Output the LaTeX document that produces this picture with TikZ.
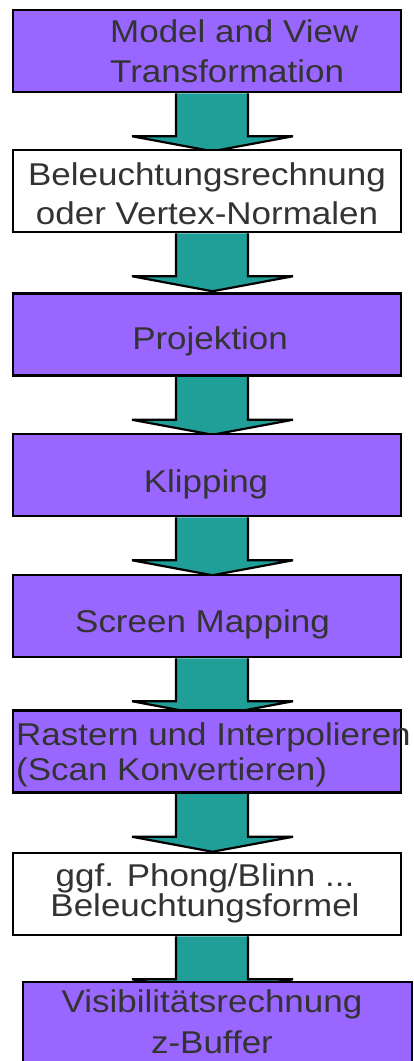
\documentclass[tikz,border=0pt]{standalone}
\usepackage{fontspec}
\setmainfont{Liberation Sans}[FakeStretch=1.11]
\usetikzlibrary{backgrounds}

\definecolor{stagefill}{RGB}{153,102,255}
\definecolor{arrowfill}{RGB}{32,158,152}
\definecolor{labelgray}{RGB}{51,51,51}

\tikzset{
  stagebox/.style={draw=black, line width=2.5pt, fill=stagefill,
    minimum width=388pt, minimum height=82pt, inner sep=0pt},
  plainbox/.style={stagebox, fill=white},
  % text height spans from the cap line of the first row to the last baseline
  stagetext/.style={text=labelgray, inner sep=0pt, text height=22pt,
    text depth=0pt, align=center},
  flowarrow/.style={draw=black, fill=arrowfill, line width=2.2pt, line join=miter},
}

% broad block arrow hanging below a stage box
\newcommand\stagearrow[1]{%
  \draw[flowarrow] ([xshift=-31pt]#1.south) -- ++(0,43) -- ++(-44,0)
    -- ++(80.5,15) -- ++(80.5,-15) -- ++(-45,0) -- ([xshift=41pt]#1.south);}

\begin{document}
\begin{tikzpicture}[x=1pt, y=-1pt]
\useasboundingbox (0,0) rectangle (414,1061);

% stage boxes
\node[stagebox] (mvt)  at (207,51)    {};
\node[plainbox] (lite) at (207,191)   {};
\node[stagebox] (proj) at (207,334.5) {};
\node[stagebox] (clip) at (207,475)   {};
\node[stagebox] (scrn) at (207,616)   {};
\node[stagebox] (rast) at (207,751.5) {};
\node[plainbox] (shad) at (207,894)   {};
\node[stagebox, minimum width=389pt, minimum height=100pt] (vis) at (217.5,1032) {};

% stage labels
\node[stagetext, align=left, anchor=west, text height=62pt,
      font=\fontsize{31.5}{40}\selectfont] (mvtText) at (110,51)
      {Model and View\\Transformation};
\node[stagetext, text height=61pt, font=\fontsize{31.5}{39}\selectfont] (liteText)
      at (207,193.5) {Beleuchtungsrechnung\\oder Vertex-Normalen};
\node[stagetext, font=\fontsize{31.5}{39}\selectfont] (projText)
      at (210,338.5) {Projektion};
\node[stagetext, font=\fontsize{31.5}{39}\selectfont] (clipText)
      at (206,481.5) {Klipping};
\node[stagetext, font=\fontsize{31.5}{39}\selectfont] (scrnText)
      at (202.5,621.5) {Screen Mapping};
\node[stagetext, align=left, anchor=west, text height=57pt,
      font=\fontsize{31.5}{35}\selectfont] (rastText) at (16,751.5)
      {Rastern und Interpolieren\\(Scan Konvertieren)};
\node[stagetext, text height=52pt, font=\fontsize{31.5}{30}\selectfont] (shadText)
      at (205,890.5) {ggf. Phong/Blinn ...\\Beleuchtungsformel};
\node[stagetext, text height=63pt, font=\fontsize{31.5}{41}\selectfont] (visText)
      at (212,1021.5) {Visibilitätsrechnung\\z-Buffer};

% arrows between the stages, tucked under the boxes
\begin{scope}[on background layer]
  \fill[white] (0,0) rectangle (414,1061);
  \stagearrow{mvt}
  \stagearrow{lite}
  \stagearrow{proj}
  \stagearrow{clip}
  \stagearrow{scrn}
  \stagearrow{rast}
  \stagearrow{shad}
\end{scope}
\end{tikzpicture}
\end{document}
